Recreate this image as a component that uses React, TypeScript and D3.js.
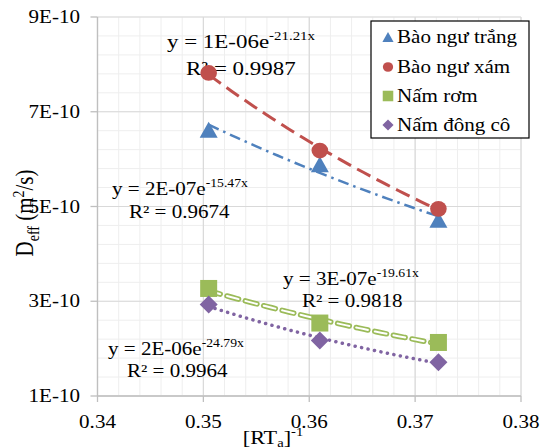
import React from "react";
import * as d3 from "d3";

const X_VALUES = [0.3505, 0.361, 0.3722];
const BAO_NGU_TRANG = [6.62e-10, 5.89e-10, 4.72e-10];
const BAO_NGU_XAM = [7.82e-10, 6.18e-10, 4.95e-10];
const NAM_ROM = [3.27e-10, 2.54e-10, 2.13e-10];
const NAM_DONG_CO = [2.93e-10, 2.17e-10, 1.71e-10];

const SERIES_NAMES = ["Bào ngư trắng", "Bào ngư xám", "Nấm rơm", "Nấm đông cô"];
const X_TICKS = [0.34, 0.35, 0.36, 0.37, 0.38];
const Y_TICKS = [1e-10, 3e-10, 5e-10, 7e-10, 9e-10];
const Y_TICK_LABELS = ["1E-10", "3E-10", "5E-10", "7E-10", "9E-10"];
const EQ_LABELS = [
  { base: "y = 2E-07e", exp: "-15.47x", r2: "R² = 0.9674" },
  { base: "y = 1E-06e", exp: "-21.21x", r2: "R² = 0.9987" },
  { base: "y = 3E-07e", exp: "-19.61x", r2: "R² = 0.9818" },
  { base: "y = 2E-06e", exp: "-24.79x", r2: "R² = 0.9964" },
];

const W = 548;
const H = 447;
const SX = 1.17;
const FONT = "'Liberation Serif', 'Times New Roman', serif";

const COLORS = ["#4F81BD", "#C0504D", "#9BBB59", "#8064A2"];
const DATA = [BAO_NGU_TRANG, BAO_NGU_XAM, NAM_ROM, NAM_DONG_CO];

const x = d3.scaleLinear().domain([0.34, 0.38]).range([97.5, 521]);
const y = d3.scaleLinear().domain([1e-10, 9e-10]).range([396, 17]);

function fitExp(xs: number[], ys: number[]) {
  const ly = ys.map((v) => Math.log(v));
  const mx = d3.mean(xs)!;
  const my = d3.mean(ly)!;
  let num = 0,
    den = 0;
  xs.forEach((xv, i) => {
    num += (xv - mx) * (ly[i] - my);
    den += (xv - mx) * (xv - mx);
  });
  const b = num / den;
  const a = my - b * mx;
  return (xv: number) => Math.exp(a + b * xv);
}

function T({
  x: tx,
  y: ty,
  size = 18,
  anchor = "start",
  rotate = 0,
  children,
}: {
  x: number;
  y: number;
  size?: number;
  anchor?: string;
  rotate?: number;
  children: React.ReactNode;
}) {
  return (
    <g transform={`translate(${tx},${ty}) scale(${SX},1) rotate(${rotate})`}>
      <text textAnchor={anchor as any} fontSize={size} fontFamily={FONT} fill="#000">
        {children}
      </text>
    </g>
  );
}

function Marker({ i, cx, cy, scale = 1 }: { i: number; cx: number; cy: number; scale?: number }) {
  const c = COLORS[i];
  if (i === 0) {
    const w = 18 * scale,
      h = 16 * scale;
    return <path d={`M${cx},${cy - h / 2}L${cx + w / 2},${cy + h / 2}L${cx - w / 2},${cy + h / 2}Z`} fill={c} />;
  }
  if (i === 1) return <ellipse cx={cx} cy={cy} rx={8.3 * scale} ry={7.8 * scale} fill={c} />;
  if (i === 2) {
    const s = 17 * scale;
    return <rect x={cx - s / 2} y={cy - s / 2} width={s} height={s} fill={c} />;
  }
  const r = 9 * scale;
  return <path d={`M${cx},${cy - r}L${cx + r},${cy}L${cx},${cy + r}L${cx - r},${cy}Z`} fill={c} />;
}

export default function App() {
  const xMinor = d3.range(0.34, 0.38001, 0.002);
  const yMinor = d3.range(1e-10, 9.0001e-10, 0.4e-10);
  const line = d3
    .line<[number, number]>()
    .x((d) => x(d[0]))
    .y((d) => y(d[1]));

  const trend = DATA.map((ys) => {
    const f = fitExp(X_VALUES, ys);
    const pts: [number, number][] = d3
      .range(0, 41)
      .map((k) => X_VALUES[0] + ((X_VALUES[2] - X_VALUES[0]) * k) / 40)
      .map((xv) => [xv, f(xv)]);
    return line(pts)!;
  });

  const eqPos = [
    { x: 112, y: 195, rx: 129, ry: 218, size: 18 },
    { x: 167, y: 48, rx: 186, ry: 75, size: 19.6 },
    { x: 283, y: 285, rx: 302, ry: 307, size: 18 },
    { x: 108, y: 355, rx: 127, ry: 377, size: 18 },
  ];

  const legendRows = [37, 67, 96, 125];

  return (
    <svg width={W} height={H} style={{ position: "absolute", left: 0, top: 0, background: "#fff" }}>
      <rect width={W} height={H} fill="#fff" />
      {/* minor grid */}
      {xMinor.map((v, k) => (
        <line key={"xm" + k} x1={x(v)} x2={x(v)} y1={y(9e-10)} y2={y(1e-10)} stroke="#EEEEEE" strokeWidth={1} />
      ))}
      {yMinor.map((v, k) => (
        <line key={"ym" + k} x1={x(0.34)} x2={x(0.38)} y1={y(v)} y2={y(v)} stroke="#EEEEEE" strokeWidth={1} />
      ))}
      {/* major grid */}
      {X_TICKS.map((v) => (
        <line key={"xg" + v} x1={x(v)} x2={x(v)} y1={y(9e-10)} y2={y(1e-10)} stroke="#D9D9D9" strokeWidth={1.2} />
      ))}
      {Y_TICKS.map((v) => (
        <line key={"yg" + v} x1={x(0.34)} x2={x(0.38)} y1={y(v)} y2={y(v)} stroke="#D9D9D9" strokeWidth={1.2} />
      ))}
      {/* axes */}
      <line x1={x(0.34)} x2={x(0.34)} y1={y(9e-10)} y2={y(1e-10)} stroke="#BFBFBF" strokeWidth={1.3} />
      <line x1={x(0.34)} x2={x(0.38)} y1={y(1e-10)} y2={y(1e-10)} stroke="#BFBFBF" strokeWidth={1.3} />
      {Y_TICKS.map((v) => (
        <line key={"yt" + v} x1={x(0.34) - 7} x2={x(0.34)} y1={y(v)} y2={y(v)} stroke="#BFBFBF" strokeWidth={1.3} />
      ))}
      {X_TICKS.map((v) => (
        <line key={"xt" + v} x1={x(v)} x2={x(v)} y1={y(1e-10)} y2={y(1e-10) + 6} stroke="#BFBFBF" strokeWidth={1.3} />
      ))}
      {/* tick labels */}
      {Y_TICKS.map((v, k) => (
        <T key={"yl" + v} x={80} y={y(v) + 6} anchor="end">
          {Y_TICK_LABELS[k]}
        </T>
      ))}
      {X_TICKS.map((v) => (
        <T key={"xl" + v} x={x(v)} y={428} anchor="middle">
          {d3.format(".2f")(v)}
        </T>
      ))}
      {/* axis titles */}
      <T x={273} y={444} anchor="middle" size={19}>
        [RT
        <tspan fontSize={12.5} dy={3}>a</tspan>
        <tspan dy={-3}>]</tspan>
        <tspan fontSize={12.5} dy={-8}>-1</tspan>
      </T>
      <T x={33} y={213} anchor="middle" size={21} rotate={-90}>
        D
        <tspan fontSize={14} dy={5}>eff</tspan>
        <tspan dy={-5}> (m</tspan>
        <tspan fontSize={14} dy={-8}>2</tspan>
        <tspan dy={8}>/s)</tspan>
      </T>
      {/* equation labels */}
      {EQ_LABELS.map((e, i) => (
        <g key={"eq" + i}>
          <T x={eqPos[i].x} y={eqPos[i].y} size={eqPos[i].size}>
            {e.base}
            <tspan fontSize={eqPos[i].size * 0.65} dy={-eqPos[i].size * 0.42}>
              {e.exp}
            </tspan>
          </T>
          <T x={eqPos[i].rx} y={eqPos[i].ry} size={eqPos[i].size}>
            {e.r2}
          </T>
        </g>
      ))}
      {/* trendlines */}
      <path d={trend[0]} fill="none" stroke={COLORS[0]} strokeWidth={2.5} strokeDasharray="11 5 2.5 5" />
      <path d={trend[1]} fill="none" stroke={COLORS[1]} strokeWidth={3} strokeDasharray="15 7" />
      <path d={trend[2]} fill="none" stroke={COLORS[2]} strokeWidth={5.5} strokeDasharray="12 7" strokeLinecap="round" />
      <path d={trend[2]} fill="none" stroke="#fff" strokeWidth={2} strokeDasharray="12 7" strokeLinecap="round" />
      <path d={trend[3]} fill="none" stroke={COLORS[3]} strokeWidth={3.5} strokeDasharray="0.1 6.5" strokeLinecap="round" />
      {/* markers */}
      {DATA.map((ys, i) =>
        ys.map((v, k) => <Marker key={`m${i}-${k}`} i={i} cx={x(X_VALUES[k])} cy={y(v)} />)
      )}
      {/* legend */}
      <rect x={371} y={21} width={158} height={117} fill="#fff" stroke="#000" strokeWidth={1.2} />
      {SERIES_NAMES.map((n, i) => (
        <g key={"lg" + i}>
          <Marker i={i} cx={388} cy={legendRows[i]} scale={0.62} />
          <T x={397} y={legendRows[i] + 6} size={18}>
            {n}
          </T>
        </g>
      ))}
    </svg>
  );
}
